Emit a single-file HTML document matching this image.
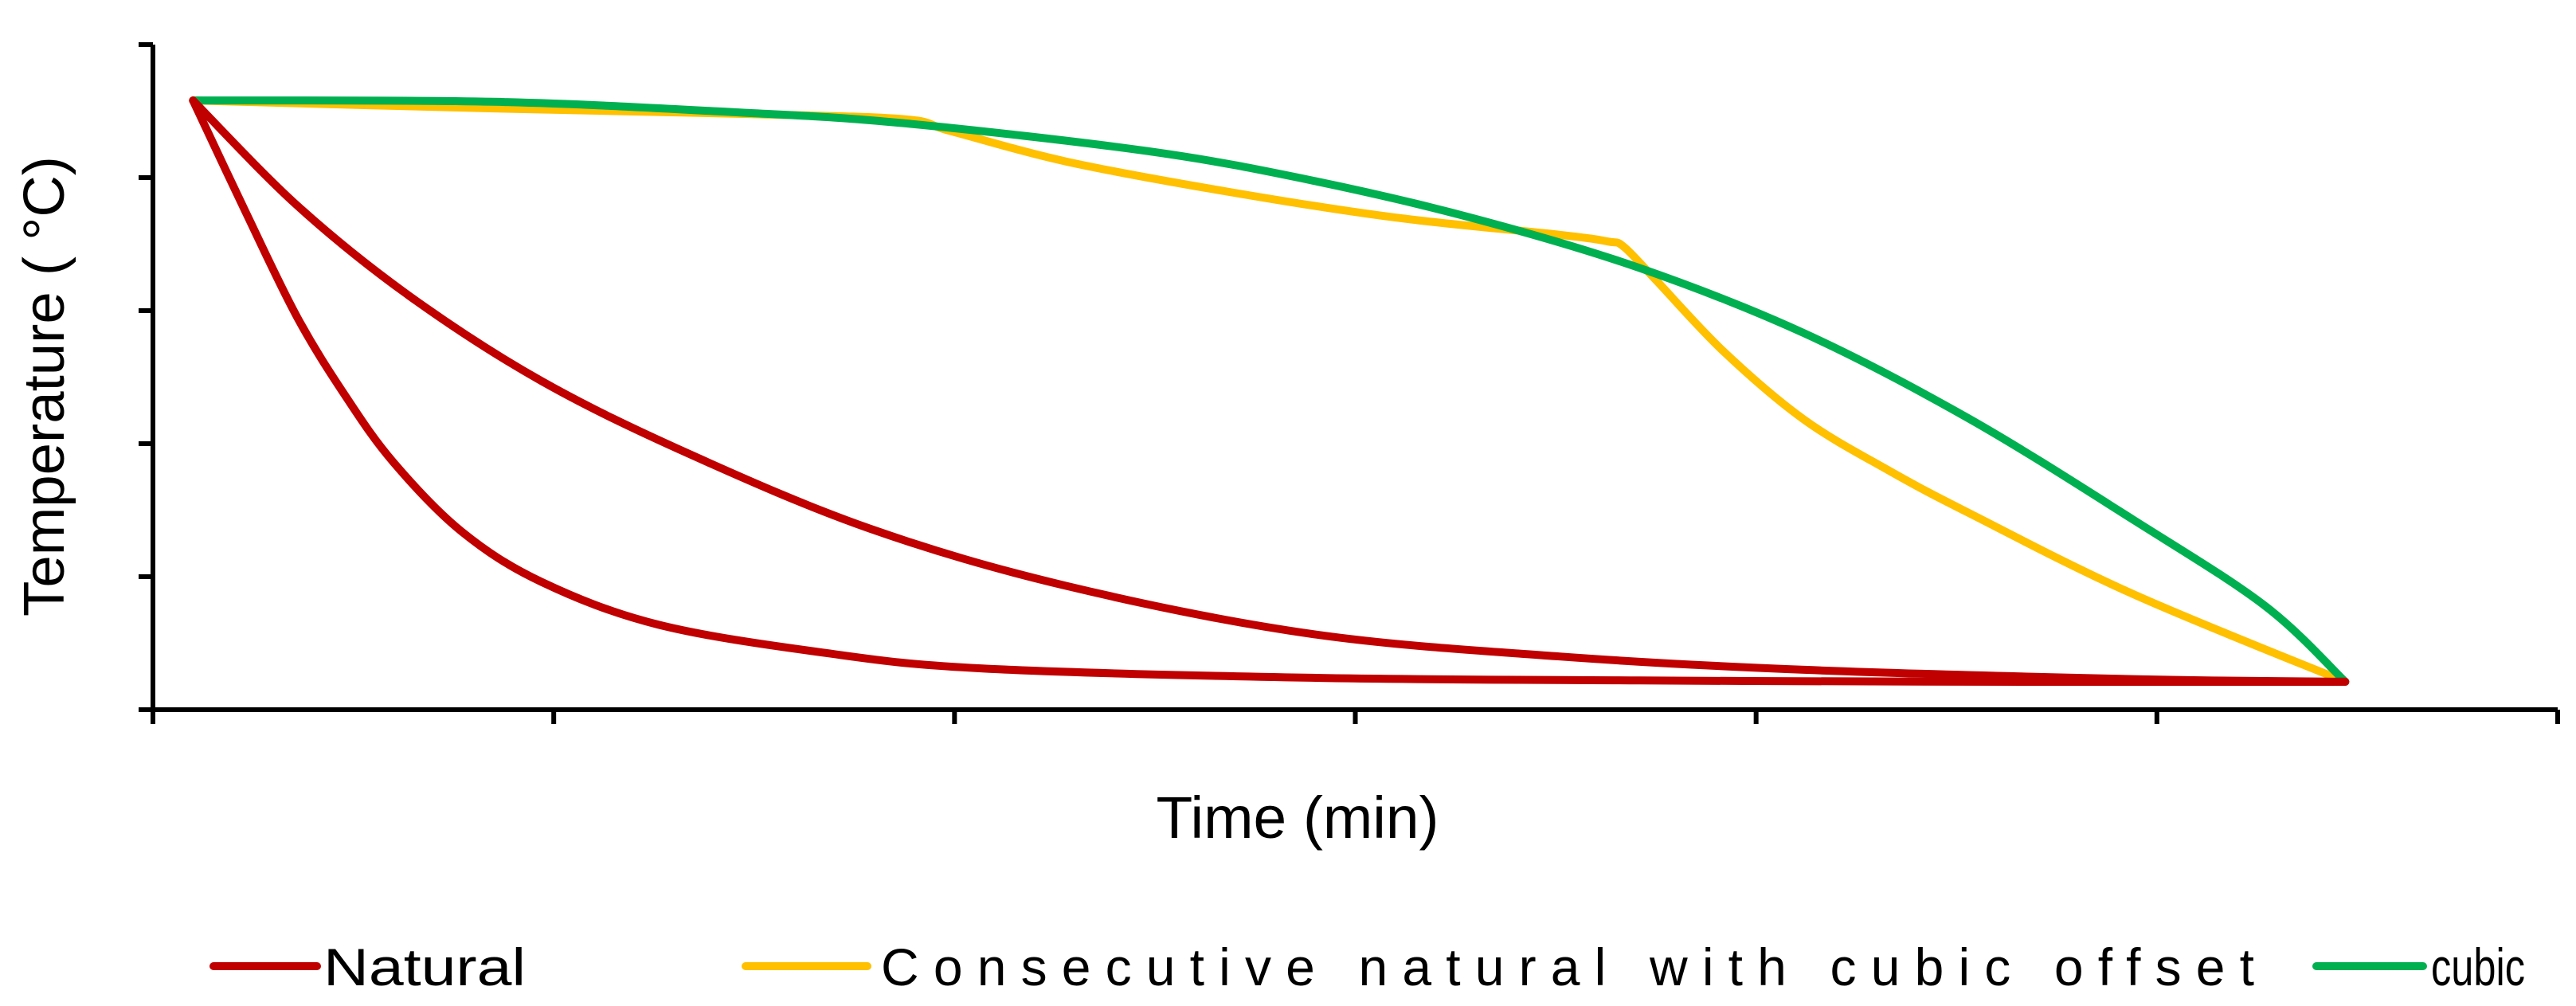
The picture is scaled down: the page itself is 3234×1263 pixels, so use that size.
<!DOCTYPE html>
<html><head><meta charset="utf-8"><style>
html,body{margin:0;padding:0;background:#fff;}
svg{display:block;}
text{font-family:"Liberation Sans",sans-serif;fill:#000;}
</style></head><body>
<svg id="chart" width="3234" height="1263" viewBox="0 0 3234 1263" xmlns="http://www.w3.org/2000/svg">
<g id="axes"></g>
<g id="series"></g>
<text x="0" y="0" font-size="72" text-anchor="middle" transform="translate(80,485) rotate(-90)" textLength="578" lengthAdjust="spacingAndGlyphs">Temperature ( °C)</text>
<text x="1629" y="1052" font-size="74" text-anchor="middle" textLength="355" lengthAdjust="spacingAndGlyphs">Time (min)</text>
<g>
 <line x1="268" y1="1213" x2="398" y2="1213" stroke="#C00000" stroke-width="10" stroke-linecap="round"/>
 <text x="406" y="1237" font-size="66" textLength="254" lengthAdjust="spacingAndGlyphs">Natural</text>
 <line x1="936" y1="1213" x2="1089" y2="1213" stroke="#FFC000" stroke-width="10" stroke-linecap="round"/>
 <text x="1106" y="1237" font-size="66" textLength="1724" lengthAdjust="spacing">Consecutive natural with cubic offset</text>
 <line x1="2908" y1="1213" x2="3042" y2="1213" stroke="#00B050" stroke-width="10" stroke-linecap="round"/>
 <text x="3052" y="1237" font-size="66" textLength="118" lengthAdjust="spacingAndGlyphs">cubic</text>
</g>
</svg>
<script>
const xTicks = [0,1,2,3,4,5,6];
const yTicks = [0,1,2,3,4,5];
const fastX = [0.10,0.23,0.36,0.48,0.60,0.77,0.97,1.26,1.67,2.07,2.89,3.71,4.53,5.47];
const fastY = [4.58,3.75,2.95,2.36,1.86,1.34,0.96,0.64,0.43,0.31,0.24,0.22,0.21,0.21];
const slowX = [0.10,0.36,0.64,0.97,1.34,1.79,2.28,2.89,3.51,4.12,4.94,5.47];
const slowY = [4.58,3.79,3.11,2.47,1.92,1.36,0.93,0.57,0.40,0.30,0.23,0.21];
const consX = [0.10,0.85,1.46,1.87,1.99,2.28,2.69,3.10,3.51,3.63,3.67,3.75,3.92,4.12,4.33,4.53,4.94,5.47];
const consY = [4.58,4.52,4.48,4.44,4.35,4.12,3.89,3.70,3.57,3.52,3.48,3.23,2.69,2.18,1.80,1.48,0.87,0.21];
const cubicX = [0.10,0.85,1.46,1.87,2.48,2.89,3.30,3.71,4.12,4.53,4.94,5.27,5.47];
const cubicY = [4.58,4.57,4.49,4.41,4.20,3.98,3.69,3.32,2.83,2.19,1.43,0.78,0.21];

const X0=192, X1=3211, Y0=891, YT=56;
const sx = v => X0 + v*(X1-X0)/6;
const sy = v => Y0 - v*(Y0-YT)/5;
const NS='http://www.w3.org/2000/svg';
const axes=document.getElementById('axes');
function mk(tag,attrs,parent){const e=document.createElementNS(NS,tag);for(const k in attrs)e.setAttribute(k,attrs[k]);parent.appendChild(e);return e;}
let a=mk('line',{x1:X0,y1:YT,x2:X0,y2:Y0+16,stroke:'#000','stroke-width':6},axes);


a=mk('line',{x1:X0-2,y1:Y0,x2:X1,y2:Y0,stroke:'#000','stroke-width':6},axes);


yTicks.forEach(t=>{const l=mk('line',{x1:X0-18,y1:sy(t),x2:X0,y2:sy(t),stroke:'#000','stroke-width':6},axes);

});
xTicks.forEach(t=>{const l=mk('line',{x1:sx(t),y1:Y0,x2:sx(t),y2:Y0+18,stroke:'#000','stroke-width':6},axes);

});
function pathD(xs,ys){const p=xs.map((x,i)=>[sx(x),sy(ys[i])]);let d='M'+p[0][0]+','+p[0][1];
for(let i=0;i<p.length-1;i++){const p0=p[Math.max(0,i-1)],p1=p[i],p2=p[i+1],p3=p[Math.min(p.length-1,i+2)];
const c1=[p1[0]+(p2[0]-p0[0])/6,p1[1]+(p2[1]-p0[1])/6],c2=[p2[0]-(p3[0]-p1[0])/6,p2[1]-(p3[1]-p1[1])/6];
d+=' C'+c1[0]+','+c1[1]+' '+c2[0]+','+c2[1]+' '+p2[0]+','+p2[1];}return d;}
const ser=document.getElementById('series');
function draw(xs,ys,col,name){const e=mk('path',{d:pathD(xs,ys),fill:'none',stroke:col,'stroke-width':10,'stroke-linecap':'round','stroke-linejoin':'round'},ser);

}
draw(consX,consY,'#FFC000','line-consecutive');
draw(cubicX,cubicY,'#00B050','line-cubic');
draw(slowX,slowY,'#C00000','line-natural-slow');
draw(fastX,fastY,'#C00000','line-natural-fast');
</script>
</body></html>
